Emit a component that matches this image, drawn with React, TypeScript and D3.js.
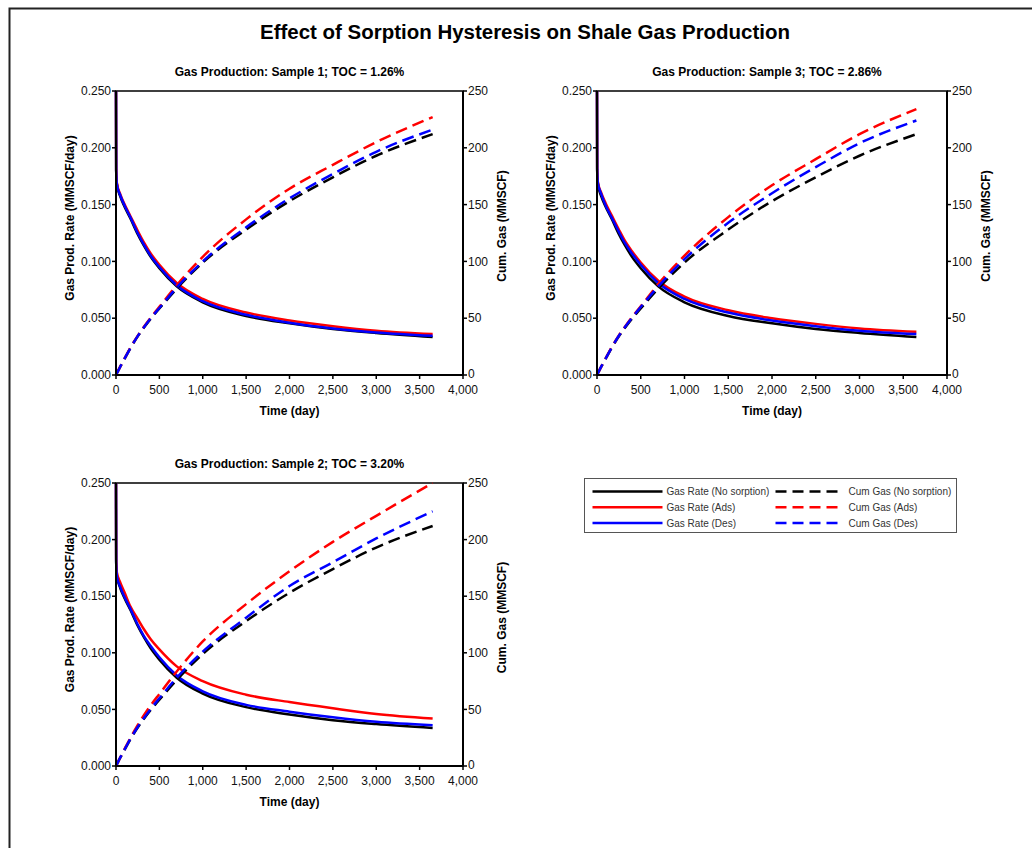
import * as d3 from "d3";
import React from "react";

// time axis shared by every series (days)
const days = [0, 2, 10, 50, 100, 165, 250, 320, 400, 500, 700, 1000, 1500, 2000, 2500, 3000, 3650];

// gas rate (MMSCF/day)
const rateNoSorption = [0.25, 0.18, 0.168, 0.157, 0.148, 0.138, 0.124, 0.114, 0.104, 0.094, 0.078, 0.064, 0.052, 0.0455, 0.0405, 0.037, 0.0335];
const rateAds1 = [0.25, 0.181, 0.169, 0.159, 0.15, 0.14, 0.127, 0.117, 0.107, 0.097, 0.081, 0.067, 0.055, 0.048, 0.043, 0.039, 0.036];
const rateDes1 = [0.25, 0.18, 0.168, 0.158, 0.149, 0.139, 0.125, 0.115, 0.105, 0.095, 0.079, 0.065, 0.053, 0.046, 0.041, 0.0375, 0.0345];
const rateAds3 = [0.25, 0.182, 0.17, 0.16, 0.151, 0.141, 0.128, 0.118, 0.109, 0.099, 0.083, 0.069, 0.057, 0.05, 0.045, 0.041, 0.038];
const rateDes3 = [0.25, 0.181, 0.169, 0.159, 0.149, 0.139, 0.126, 0.116, 0.107, 0.097, 0.081, 0.067, 0.055, 0.048, 0.043, 0.039, 0.036];
const rateAds2 = [0.25, 0.183, 0.171, 0.162, 0.153, 0.141, 0.13, 0.121, 0.112, 0.103, 0.088, 0.075, 0.063, 0.0565, 0.051, 0.046, 0.042];
const rateDes2 = [0.25, 0.18, 0.168, 0.158, 0.149, 0.139, 0.125, 0.115, 0.106, 0.096, 0.08, 0.066, 0.054, 0.048, 0.043, 0.039, 0.036];

// cumulative gas (MMSCF)
const cumNoSorption = [0, 0.3, 1.5, 7.5, 14.5, 23.5, 34, 41.5, 49.5, 58.5, 76, 99, 128, 153, 174, 193, 212];
const cumAds1 = [0, 0.3, 1.5, 7.6, 14.7, 23.8, 34.5, 42.2, 50.4, 60, 79, 104, 137, 164, 185, 205, 227];
const cumDes1 = [0, 0.3, 1.5, 7.5, 14.6, 23.6, 34.2, 41.8, 49.9, 59, 77, 100, 130, 155.5, 177, 196.5, 216];
const cumAds3 = [0, 0.3, 1.5, 7.6, 14.8, 24, 34.8, 42.6, 50.9, 60.5, 80, 105, 139, 167, 190, 212, 234];
const cumDes3 = [0, 0.3, 1.5, 7.6, 14.7, 23.8, 34.5, 42.2, 50.4, 59.8, 78, 102, 134, 160, 183, 204, 224];
const cumAds2 = [0, 0.3, 1.5, 7.7, 15.1, 24.6, 36, 44.6, 53.6, 63.6, 83.5, 110, 143, 172, 198, 221, 250];
const cumDes2 = [0, 0.3, 1.5, 7.6, 14.7, 23.8, 34.5, 42.2, 50.4, 59.8, 78, 101, 131, 159, 180, 201, 225];

const samples = [
  { title: "Gas Production: Sample 1; TOC = 1.26%", rate: [rateNoSorption, rateAds1, rateDes1], cum: [cumNoSorption, cumAds1, cumDes1] },
  { title: "Gas Production: Sample 3; TOC = 2.86%", rate: [rateNoSorption, rateAds3, rateDes3], cum: [cumNoSorption, cumAds3, cumDes3] },
  { title: "Gas Production: Sample 2; TOC = 3.20%", rate: [rateNoSorption, rateAds2, rateDes2], cum: [cumNoSorption, cumAds2, cumDes2] },
];

const legendRate = ["Gas Rate (No sorption)", "Gas Rate (Ads)", "Gas Rate (Des)"];
const legendCum = ["Cum Gas (No sorption)", "Cum Gas (Ads)", "Cum Gas (Des)"];

const colors = ["#000000", "#ff0000", "#0000ff"];
const font = "'Liberation Sans', Arial, sans-serif";
const dash = "12,6";

// plot boxes (left, top, width, height)
const boxes = [
  { x: 116, y: 91, w: 347, h: 284, tx: 0 },
  { x: 597, y: 91, w: 350, h: 284, tx: -5 },
  { x: 116, y: 483, w: 347, h: 283, tx: 0 },
];

const Panel = ({ s, b }) => {
  const x = d3.scaleLinear([0, 4000], [b.x, b.x + b.w]);
  const yL = d3.scaleLinear([0, 0.25], [b.y + b.h, b.y]);
  const yR = d3.scaleLinear([0, 250], [b.y + b.h, b.y]);
  const lineL = d3.line().x((d) => x(d[0])).y((d) => yL(d[1])).curve(d3.curveMonotoneX);
  const lineR = d3.line().x((d) => x(d[0])).y((d) => yR(d[1])).curve(d3.curveMonotoneX);
  const fx = d3.format(",");
  const fy = d3.format(".3f");
  const xTicks = d3.range(0, 4001, 500);
  const yTicks = d3.range(0, 0.2501, 0.05);
  const rTicks = d3.range(0, 251, 50);
  const cx = b.x + b.w / 2;
  const cy = b.y + b.h / 2;

  return (
    <g fontFamily={font}>
      <text x={cx + b.tx} y={b.y - 15} textAnchor="middle" fontSize={12} fontWeight="bold">
        {s.title}
      </text>
      <rect x={b.x} y={b.y} width={b.w} height={b.h} fill="none" stroke="#000" strokeWidth={1.5} />
      {s.rate.map((v, i) => (
        <path key={"r" + i} d={lineL(days.map((t, j) => [t, v[j]]))} fill="none" stroke={colors[i]} strokeWidth={2.5} />
      ))}
      {s.cum.map((v, i) => (
        <path key={"c" + i} d={lineR(days.map((t, j) => [t, v[j]]))} fill="none" stroke={colors[i]} strokeWidth={2.5} strokeDasharray={dash} />
      ))}
      <line x1={b.x} x2={b.x} y1={b.y} y2={b.y + b.h} stroke="#000" strokeWidth={2} />
      <line x1={b.x + b.w} x2={b.x + b.w} y1={b.y} y2={b.y + b.h} stroke="#000" strokeWidth={2} />
      <line x1={b.x} x2={b.x + b.w} y1={b.y + b.h} y2={b.y + b.h} stroke="#000" strokeWidth={2} />
      {xTicks.map((t) => (
        <g key={"x" + t}>
          <line x1={x(t)} x2={x(t)} y1={b.y + b.h} y2={b.y + b.h + 4} stroke="#000" strokeWidth={1.5} />
          <text x={x(t)} y={b.y + b.h + 19} textAnchor="middle" fontSize={12} fill="#111">
            {fx(t)}
          </text>
        </g>
      ))}
      {yTicks.map((t) => (
        <g key={"y" + t}>
          <line x1={b.x - 4} x2={b.x} y1={yL(t)} y2={yL(t)} stroke="#000" strokeWidth={1.5} />
          <text x={b.x - 5} y={yL(t)} dy="0.35em" textAnchor="end" fontSize={12} fill="#111">
            {fy(t)}
          </text>
        </g>
      ))}
      {rTicks.map((t) => (
        <g key={"rt" + t}>
          <line x1={b.x + b.w} x2={b.x + b.w + 4} y1={yR(t)} y2={yR(t)} stroke="#000" strokeWidth={1.5} />
          <text x={b.x + b.w + 5} y={yR(t) - (t === 0 ? 1 : 0)} dy="0.35em" fontSize={12} fill="#111">
            {t}
          </text>
        </g>
      ))}
      <text x={cx} y={b.y + b.h + 40} textAnchor="middle" fontSize={12} fontWeight="bold">
        Time (day)
      </text>
      <text transform={`translate(${b.x - 42},${cy - 15}) rotate(-90)`} textAnchor="middle" fontSize={12} fontWeight="bold">
        Gas Prod. Rate (MMSCF/day)
      </text>
      <text transform={`translate(${b.x + b.w + 43},${cy - 7}) rotate(-90)`} textAnchor="middle" fontSize={12} fontWeight="bold">
        Cum. Gas (MMSCF)
      </text>
    </g>
  );
};

const Legend = () => {
  const lx = 584.5;
  const ly = 478.5;
  const rowY = d3.scaleLinear([0, 2], [ly + 13, ly + 44.5]);
  return (
    <g fontFamily={font}>
      <rect x={lx} y={ly} width={372} height={54} fill="#fff" stroke="#555" strokeWidth={1} />
      {legendRate.map((name, i) => (
        <g key={name}>
          <line x1={lx + 8} x2={lx + 78} y1={rowY(i)} y2={rowY(i)} stroke={colors[i]} strokeWidth={2.5} />
          <text x={lx + 82} y={rowY(i)} dy="0.35em" fontSize={10} fill="#333">
            {name}
          </text>
        </g>
      ))}
      {legendCum.map((name, i) => (
        <g key={name}>
          <line x1={lx + 191} x2={lx + 256} y1={rowY(i)} y2={rowY(i)} stroke={colors[i]} strokeWidth={2.5} strokeDasharray="11,6" />
          <text x={lx + 264} y={rowY(i)} dy="0.35em" fontSize={10} fill="#333">
            {name}
          </text>
        </g>
      ))}
    </g>
  );
};

export default function App() {
  return (
    <svg width={1032} height={848} style={{ position: "absolute", left: 0, top: 0, background: "#fff" }}>
      <rect x={0} y={0} width={1032} height={848} fill="#fff" />
      <rect x={9.5} y={8.5} width={1040} height={870} fill="none" stroke="#222" strokeWidth={2} />
      <text x={525} y={39} textAnchor="middle" fontFamily={font} fontSize={20} fontWeight="bold" textLength={530} lengthAdjust="spacingAndGlyphs">
        Effect of Sorption Hysteresis on Shale Gas Production
      </text>
      {samples.map((s, i) => (
        <Panel key={i} s={s} b={boxes[i]} />
      ))}
      <Legend />
    </svg>
  );
}
